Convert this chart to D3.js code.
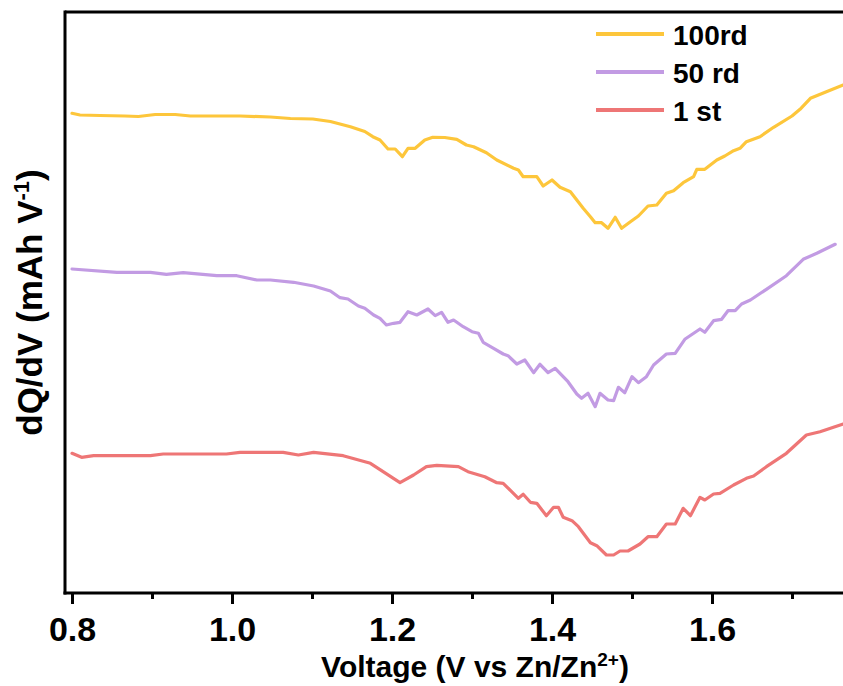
<!DOCTYPE html>
<html>
<head>
<meta charset="utf-8">
<script src="https://cdn.jsdelivr.net/npm/d3@7/dist/d3.min.js"></script>
<style>
  html, body { margin: 0; padding: 0; background: #fff; }
  svg { display: block; }
  text { font-family: "Liberation Sans", Arial, sans-serif; font-weight: bold; fill: #000; }
</style>
</head>
<body>
<svg id="chart" width="843" height="686"></svg>
<script>
// ---- data (voltage in V, dQ/dV in arbitrary units, curves offset) ----
const seriesNames = ["100rd", "50 rd", "1 st"];
const seriesColors = ["#FDC63B", "#C29BE3", "#EE7676"];

const v100 = [0.800,0.810,0.835,0.866,0.883,0.904,0.929,0.948,1.010,1.048,1.073,1.101,1.123,1.148,1.166,1.176,1.185,1.195,1.204,1.213,1.220,1.229,1.241,1.251,1.266,1.281,1.293,1.302,1.318,1.331,1.352,1.358,1.364,1.381,1.389,1.400,1.410,1.423,1.439,1.448,1.454,1.462,1.470,1.479,1.487,1.498,1.508,1.520,1.531,1.543,1.552,1.564,1.577,1.581,1.591,1.606,1.616,1.627,1.635,1.643,1.660,1.677,1.700,1.710,1.723,1.743,1.764];
const q100 = [4.797,4.780,4.775,4.770,4.765,4.785,4.785,4.770,4.770,4.760,4.745,4.740,4.715,4.663,4.615,4.563,4.530,4.440,4.440,4.363,4.447,4.447,4.530,4.557,4.555,4.537,4.480,4.463,4.403,4.330,4.247,4.230,4.163,4.163,4.070,4.130,4.057,4.013,3.847,3.763,3.703,3.703,3.647,3.757,3.647,3.713,3.770,3.870,3.880,3.997,4.023,4.103,4.163,4.237,4.237,4.330,4.370,4.423,4.447,4.513,4.563,4.657,4.770,4.837,4.947,5.013,5.080];

const v50 = [0.800,0.856,0.898,0.918,0.939,0.981,1.006,1.031,1.048,1.077,1.102,1.123,1.135,1.145,1.158,1.166,1.177,1.185,1.193,1.202,1.210,1.220,1.231,1.245,1.254,1.262,1.270,1.277,1.289,1.300,1.308,1.314,1.327,1.339,1.345,1.356,1.366,1.377,1.385,1.395,1.404,1.410,1.420,1.431,1.437,1.445,1.454,1.460,1.470,1.477,1.483,1.491,1.500,1.508,1.518,1.527,1.543,1.554,1.566,1.585,1.591,1.602,1.612,1.620,1.629,1.637,1.648,1.668,1.693,1.714,1.731,1.754];
const q50 = [3.240,3.207,3.207,3.187,3.203,3.173,3.173,3.130,3.130,3.107,3.070,3.020,2.953,2.940,2.870,2.847,2.780,2.747,2.680,2.697,2.707,2.813,2.780,2.840,2.773,2.807,2.707,2.730,2.663,2.613,2.597,2.507,2.447,2.390,2.373,2.290,2.330,2.203,2.287,2.203,2.247,2.197,2.113,1.990,1.947,1.997,1.863,1.997,1.930,1.923,2.057,2.003,2.163,2.103,2.163,2.280,2.390,2.397,2.537,2.640,2.607,2.723,2.737,2.823,2.823,2.890,2.930,3.037,3.173,3.337,3.397,3.487];

const v1 = [0.800,0.812,0.827,0.898,0.914,0.993,1.010,1.064,1.083,1.102,1.139,1.173,1.210,1.227,1.243,1.256,1.283,1.295,1.316,1.331,1.339,1.358,1.364,1.373,1.381,1.393,1.402,1.408,1.414,1.425,1.433,1.448,1.456,1.468,1.477,1.485,1.495,1.510,1.520,1.531,1.543,1.554,1.564,1.573,1.585,1.591,1.602,1.610,1.627,1.643,1.652,1.668,1.693,1.718,1.735,1.764];
const q1 = [1.397,1.357,1.373,1.373,1.390,1.390,1.407,1.407,1.380,1.407,1.373,1.297,1.103,1.180,1.263,1.277,1.263,1.213,1.163,1.103,1.097,0.947,0.987,0.907,0.897,0.773,0.857,0.857,0.757,0.723,0.663,0.503,0.473,0.380,0.380,0.420,0.420,0.490,0.563,0.563,0.690,0.690,0.847,0.773,0.957,0.930,0.990,0.997,1.080,1.147,1.170,1.263,1.397,1.580,1.613,1.690];

const majorTicks = [0.8, 1.0, 1.2, 1.4, 1.6];
const minorTicks = [0.9, 1.1, 1.3, 1.5, 1.7];
const xDomain = [0.79125, 1.76375];
const yDomain = [0, 5.81];

// ---- layout ----
const mLeft = 65, mRight = 843, mTop = 12, mBottom = 593;
const svg = d3.select("#chart");

const x = d3.scaleLinear().domain(xDomain).range([mLeft, mRight]);
const y = d3.scaleLinear().domain(yDomain).range([mBottom, mTop]);

svg.append("defs").append("clipPath").attr("id", "clip")
  .append("rect").attr("x", mLeft).attr("y", mTop).attr("width", mRight - mLeft).attr("height", mBottom - mTop);

const line = d3.line().x(d => x(d[0])).y(d => y(d[1]));
const data = [
  d3.zip(v100, q100),
  d3.zip(v50, q50),
  d3.zip(v1, q1)
];

const g = svg.append("g").attr("clip-path", "url(#clip)");
[2, 1, 0].forEach(i => {
  g.append("path")
    .attr("d", line(data[i]))
    .attr("fill", "none")
    .attr("stroke", seriesColors[i])
    .attr("stroke-width", 3.2)
    .attr("stroke-linejoin", "round")
    .attr("stroke-linecap", "round");
});

// frame: top border, left axis
svg.append("line").attr("x1", mLeft).attr("x2", mRight + 5).attr("y1", mTop).attr("y2", mTop)
  .attr("stroke", "#000").attr("stroke-width", 3);
svg.append("line").attr("x1", mLeft).attr("x2", mLeft).attr("y1", mTop - 1.5).attr("y2", mBottom + 1.5)
  .attr("stroke", "#000").attr("stroke-width", 3);

// bottom axis
const xAxis = d3.axisBottom(x).tickValues(majorTicks).tickSize(11).tickPadding(13).tickFormat(d3.format(".1f"));
const ax = svg.append("g").attr("transform", `translate(0,${mBottom})`).call(xAxis);
ax.select(".domain").remove();
ax.selectAll(".tick line").attr("stroke", "#000").attr("stroke-width", 3);
ax.selectAll(".tick text").attr("font-size", 34).attr("font-family", "Liberation Sans, Arial, sans-serif").attr("font-weight", "bold").attr("fill", "#000");
const axMinor = svg.append("g").attr("transform", `translate(0,${mBottom})`)
  .call(d3.axisBottom(x).tickValues(minorTicks).tickSize(6).tickFormat(""));
axMinor.select(".domain").remove();
axMinor.selectAll(".tick line").attr("stroke", "#000").attr("stroke-width", 3);

svg.append("line").attr("x1", mLeft - 1.5).attr("x2", mRight + 5).attr("y1", mBottom).attr("y2", mBottom)
  .attr("stroke", "#000").attr("stroke-width", 3);

// x title
const xt = svg.append("text").attr("x", 475).attr("y", 677).attr("text-anchor", "middle").attr("font-size", 30);
xt.append("tspan").text("Voltage (V vs Zn/Zn");
xt.append("tspan").attr("dy", -11).attr("font-size", 19).text("2+");
xt.append("tspan").attr("dy", 11).text(")");

// y title
const yt = svg.append("text").attr("transform", `translate(42,${(mTop + mBottom) / 2}) rotate(-90)`)
  .attr("text-anchor", "middle").attr("font-size", 35);
yt.append("tspan").text("dQ/dV (mAh V");
yt.append("tspan").attr("dy", -13).attr("font-size", 22).text("-1");
yt.append("tspan").attr("dy", 13).text(")");

// legend
const legend = svg.append("g");
seriesNames.forEach((name, i) => {
  const ly = 34 + i * 38;
  legend.append("line").attr("x1", 596).attr("x2", 664).attr("y1", ly).attr("y2", ly)
    .attr("stroke", seriesColors[i]).attr("stroke-width", 4);
  legend.append("text").attr("x", 673).attr("y", ly + 11).attr("font-size", 28).text(name);
});
</script>
</body>
</html>
